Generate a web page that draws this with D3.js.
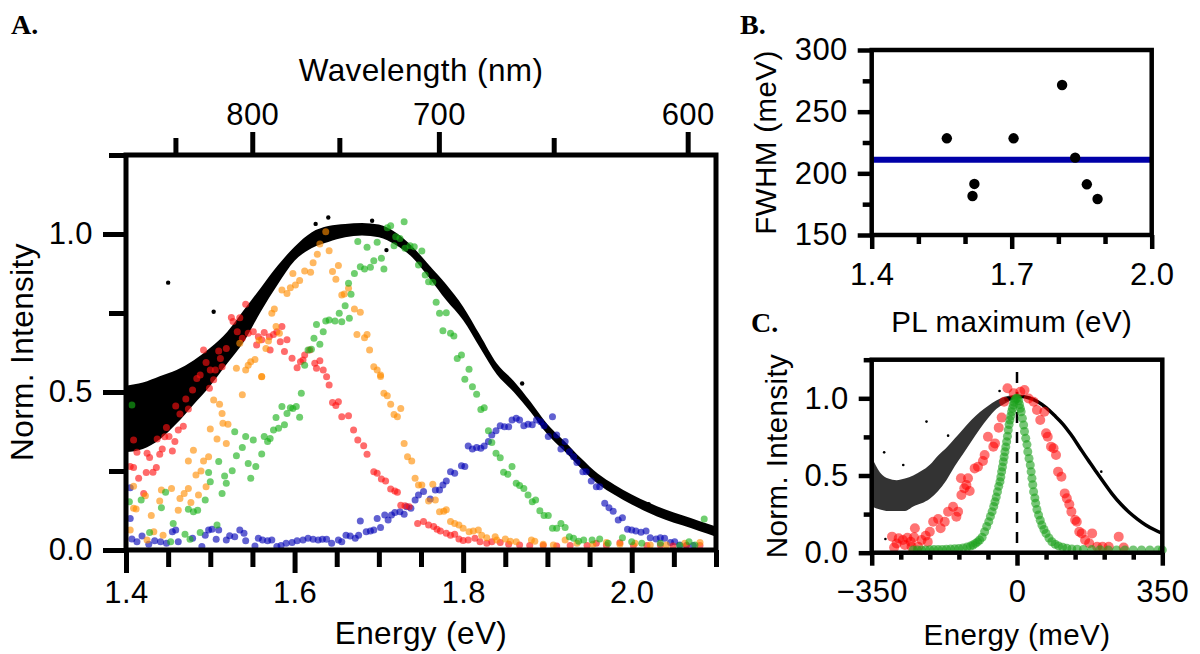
<!DOCTYPE html>
<html>
<head>
<meta charset="utf-8">
<script src="https://cdn.jsdelivr.net/npm/d3@7"></script>
<style>
  body { margin: 0; background: #fff; }
  svg text { font-family: "Liberation Sans", Arial, sans-serif; fill: #000; }
</style>
</head>
<body>
<svg id="fig" width="1200" height="654"></svg>
<script>
// Panel A: PL spectra of single emitters (coloured) over the ensemble (black band)
const aBandE = [1.40, 1.42, 1.44, 1.46, 1.48, 1.50, 1.52, 1.54, 1.56, 1.58, 1.60, 1.62, 1.64, 1.66, 1.68, 1.70, 1.72, 1.74,
  1.76, 1.78, 1.80, 1.82, 1.84, 1.86, 1.88, 1.90, 1.92, 1.94, 1.96, 1.98, 2.00, 2.02, 2.04, 2.06, 2.08, 2.10];
const aBandLow = [0.31, 0.32, 0.35, 0.40, 0.46, 0.52, 0.59, 0.66, 0.755, 0.84, 0.915, 0.955, 0.975, 0.99, 0.995, 0.99, 0.965, 0.925,
  0.86, 0.79, 0.727, 0.64, 0.555, 0.50, 0.437, 0.366, 0.313, 0.258, 0.209, 0.174, 0.144, 0.118, 0.096, 0.078, 0.060, 0.042];
const aBandHigh = [0.52, 0.53, 0.55, 0.57, 0.60, 0.64, 0.69, 0.76, 0.83, 0.90, 0.96, 1.005, 1.025, 1.032, 1.035, 1.03, 1.005, 0.96,
  0.90, 0.84, 0.77, 0.68, 0.59, 0.535, 0.469, 0.398, 0.345, 0.290, 0.241, 0.206, 0.176, 0.150, 0.128, 0.110, 0.092, 0.074];
const aBlackStray = [[1.450, 0.846], [1.504, 0.754], [1.625, 1.032], [1.640, 1.052], [1.692, 1.042], [1.709, 0.949],
  [1.870, 0.527], [2.020, 0.145]];

const aRed = [[1.405, 0.264], [1.409, 0.261], [1.409, 0.348], [1.413, 0.309], [1.415, 0.227], [1.421, 0.179], [1.424, 0.245],
  [1.425, 0.306], [1.428, 0.293], [1.432, 0.246], [1.436, 0.261], [1.437, 0.351], [1.440, 0.303], [1.443, 0.320], [1.446, 0.358],
  [1.448, 0.388], [1.451, 0.359], [1.455, 0.313], [1.458, 0.343], [1.459, 0.456], [1.462, 0.380], [1.464, 0.430], [1.468, 0.392],
  [1.471, 0.478], [1.474, 0.446], [1.479, 0.506], [1.484, 0.543], [1.488, 0.554], [1.492, 0.633], [1.495, 0.593], [1.499, 0.512],
  [1.500, 0.570], [1.504, 0.539], [1.506, 0.570], [1.510, 0.630], [1.512, 0.606], [1.514, 0.580], [1.519, 0.638], [1.525, 0.736],
  [1.527, 0.723], [1.532, 0.691], [1.535, 0.735], [1.538, 0.670], [1.542, 0.778], [1.545, 0.686], [1.551, 0.691], [1.555, 0.649],
  [1.557, 0.675], [1.561, 0.665], [1.564, 0.688], [1.570, 0.675], [1.571, 0.633], [1.575, 0.682], [1.579, 0.691], [1.583, 0.659],
  [1.585, 0.707], [1.588, 0.628], [1.591, 0.665], [1.597, 0.607], [1.603, 0.577], [1.607, 0.596], [1.610, 0.601], [1.612, 0.617],
  [1.618, 0.633], [1.624, 0.591], [1.626, 0.575], [1.630, 0.599], [1.634, 0.570], [1.638, 0.548], [1.641, 0.522], [1.645, 0.467],
  [1.649, 0.457], [1.652, 0.469], [1.656, 0.422], [1.664, 0.425], [1.670, 0.380], [1.675, 0.348], [1.682, 0.330], [1.686, 0.303],
  [1.694, 0.248], [1.698, 0.243], [1.703, 0.225], [1.708, 0.218], [1.714, 0.193], [1.719, 0.187], [1.722, 0.183], [1.726, 0.142],
  [1.731, 0.140], [1.736, 0.137], [1.746, 0.084], [1.753, 0.090], [1.759, 0.079], [1.765, 0.074], [1.769, 0.066], [1.773, 0.060],
  [1.780, 0.053], [1.785, 0.047], [1.790, 0.050], [1.795, 0.035], [1.800, 0.030], [1.806, 0.032], [1.814, 0.037], [1.820, 0.026],
  [1.828, 0.021], [1.834, 0.026], [1.844, 0.024], [1.854, 0.018], [1.867, 0.016], [1.879, 0.014], [1.895, 0.014], [1.911, 0.013],
  [1.927, 0.014], [1.947, 0.014], [1.958, 0.021], [1.970, 0.014], [1.986, 0.023], [2.002, 0.014], [2.018, 0.014], [2.034, 0.016],
  [2.049, 0.013], [2.065, 0.014], [2.081, 0.014]];

const aOrange = [[1.405, 0.063], [1.409, 0.132], [1.409, 0.202], [1.412, 0.130], [1.423, 0.172], [1.425, 0.032], [1.430, 0.109],
  [1.433, 0.058], [1.440, 0.155], [1.442, 0.190], [1.444, 0.047], [1.454, 0.195], [1.462, 0.126], [1.464, 0.163], [1.469, 0.179],
  [1.474, 0.195], [1.474, 0.282], [1.477, 0.150], [1.480, 0.316], [1.483, 0.237], [1.486, 0.174], [1.489, 0.250], [1.492, 0.282],
  [1.495, 0.200], [1.498, 0.295], [1.500, 0.383], [1.504, 0.475], [1.508, 0.351], [1.511, 0.461], [1.514, 0.432], [1.515, 0.401],
  [1.519, 0.337], [1.521, 0.398], [1.531, 0.575], [1.535, 0.654], [1.538, 0.491], [1.542, 0.570], [1.545, 0.585], [1.548, 0.596],
  [1.553, 0.603], [1.558, 0.664], [1.561, 0.549], [1.561, 0.548], [1.566, 0.638], [1.569, 0.661], [1.573, 0.749], [1.576, 0.763],
  [1.578, 0.707], [1.582, 0.686], [1.585, 0.823], [1.591, 0.812], [1.595, 0.830], [1.598, 0.875], [1.601, 0.839], [1.606, 0.853],
  [1.612, 0.883], [1.619, 0.879], [1.622, 0.909], [1.627, 0.936], [1.630, 0.968], [1.637, 1.007], [1.641, 0.947], [1.645, 0.881],
  [1.649, 0.857], [1.652, 0.900], [1.656, 0.807], [1.659, 0.810], [1.664, 0.828], [1.671, 0.763], [1.674, 0.682], [1.678, 0.752],
  [1.683, 0.672], [1.686, 0.682], [1.689, 0.633], [1.694, 0.580], [1.698, 0.570], [1.702, 0.554], [1.702, 0.549], [1.706, 0.496],
  [1.710, 0.488], [1.714, 0.461], [1.718, 0.429], [1.722, 0.422], [1.726, 0.448], [1.730, 0.337], [1.734, 0.295], [1.739, 0.282],
  [1.743, 0.227], [1.747, 0.206], [1.751, 0.206], [1.759, 0.155], [1.764, 0.208], [1.767, 0.158], [1.772, 0.121], [1.777, 0.123],
  [1.780, 0.127], [1.785, 0.090], [1.790, 0.084], [1.795, 0.079], [1.800, 0.069], [1.807, 0.058], [1.812, 0.060], [1.818, 0.063],
  [1.822, 0.047], [1.828, 0.039], [1.838, 0.042], [1.840, 0.032], [1.850, 0.035], [1.856, 0.028], [1.863, 0.026], [1.881, 0.032],
  [1.885, 0.028], [1.895, 0.018], [1.907, 0.016], [1.921, 0.032], [1.935, 0.021], [1.954, 0.018], [1.970, 0.024], [1.986, 0.018],
  [2.004, 0.021], [2.022, 0.016], [2.041, 0.016], [2.063, 0.021], [2.081, 0.024]];

const aGreen = [[1.404, 0.153], [1.407, 0.459], [1.418, 0.158], [1.428, 0.055], [1.442, 0.134], [1.447, 0.183], [1.453, 0.026],
  [1.456, 0.084], [1.470, 0.050], [1.474, 0.129], [1.476, 0.034], [1.480, 0.121], [1.485, 0.126], [1.488, 0.055], [1.494, 0.158],
  [1.498, 0.245], [1.500, 0.216], [1.508, 0.079], [1.510, 0.280], [1.514, 0.179], [1.517, 0.234], [1.519, 0.211], [1.526, 0.251],
  [1.529, 0.374], [1.531, 0.298], [1.538, 0.324], [1.542, 0.359], [1.545, 0.274], [1.548, 0.227], [1.551, 0.348], [1.554, 0.264],
  [1.561, 0.304], [1.564, 0.359], [1.568, 0.343], [1.571, 0.353], [1.575, 0.380], [1.578, 0.419], [1.581, 0.385], [1.585, 0.454],
  [1.588, 0.396], [1.591, 0.432], [1.595, 0.450], [1.598, 0.448], [1.602, 0.454], [1.606, 0.420], [1.608, 0.496], [1.612, 0.585],
  [1.616, 0.633], [1.620, 0.635], [1.623, 0.670], [1.626, 0.714], [1.630, 0.651], [1.634, 0.691], [1.637, 0.725], [1.641, 0.728],
  [1.648, 0.725], [1.653, 0.749], [1.656, 0.722], [1.660, 0.773], [1.664, 0.844], [1.665, 0.733], [1.667, 0.809], [1.671, 0.875],
  [1.675, 0.976], [1.678, 0.896], [1.683, 0.889], [1.686, 0.958], [1.690, 0.895], [1.694, 0.915], [1.698, 0.974], [1.703, 0.923],
  [1.706, 0.889], [1.710, 1.020], [1.714, 1.026], [1.718, 0.963], [1.720, 0.991], [1.725, 0.986], [1.730, 1.039], [1.731, 0.955],
  [1.737, 0.963], [1.742, 0.960], [1.747, 0.902], [1.751, 0.946], [1.755, 0.870], [1.759, 0.849], [1.764, 0.847], [1.768, 0.784],
  [1.772, 0.749], [1.776, 0.694], [1.780, 0.751], [1.785, 0.686], [1.789, 0.677], [1.793, 0.606], [1.798, 0.617], [1.802, 0.540],
  [1.807, 0.572], [1.811, 0.517], [1.816, 0.493], [1.821, 0.445], [1.825, 0.450], [1.830, 0.377], [1.834, 0.340], [1.839, 0.306],
  [1.844, 0.292], [1.848, 0.246], [1.853, 0.240], [1.858, 0.264], [1.863, 0.211], [1.867, 0.204], [1.872, 0.195], [1.877, 0.174],
  [1.882, 0.153], [1.886, 0.158], [1.891, 0.124], [1.896, 0.109], [1.901, 0.109], [1.906, 0.069], [1.911, 0.069], [1.916, 0.084],
  [1.921, 0.071], [1.926, 0.042], [1.931, 0.037], [1.937, 0.028], [1.943, 0.032], [1.953, 0.032], [1.962, 0.035], [1.972, 0.021],
  [1.989, 0.039], [2.000, 0.026], [2.012, 0.021], [2.034, 0.021], [2.057, 0.014], [2.068, 0.026], [2.075, 0.016], [2.086, 0.098]];

const aBlue = [[1.405, 0.197], [1.405, 0.100], [1.407, 0.035], [1.413, 0.026], [1.419, 0.044], [1.427, 0.018], [1.434, 0.029],
  [1.441, 0.026], [1.448, 0.021], [1.455, 0.058], [1.459, 0.063], [1.462, 0.026], [1.479, 0.037], [1.490, 0.011], [1.494, 0.047],
  [1.498, 0.063], [1.502, 0.066], [1.507, 0.034], [1.510, 0.063], [1.519, 0.032], [1.523, 0.045], [1.529, 0.042], [1.535, 0.063],
  [1.540, 0.053], [1.542, 0.029], [1.553, 0.013], [1.557, 0.037], [1.562, 0.032], [1.568, 0.029], [1.573, 0.032], [1.579, 0.011],
  [1.584, 0.014], [1.590, 0.021], [1.597, 0.024], [1.603, 0.029], [1.610, 0.032], [1.616, 0.037], [1.622, 0.034], [1.628, 0.032],
  [1.633, 0.034], [1.638, 0.034], [1.644, 0.021], [1.652, 0.032], [1.656, 0.026], [1.661, 0.047], [1.666, 0.044], [1.672, 0.037],
  [1.676, 0.047], [1.678, 0.092], [1.685, 0.058], [1.690, 0.060], [1.694, 0.063], [1.698, 0.100], [1.702, 0.071], [1.707, 0.111],
  [1.711, 0.095], [1.715, 0.111], [1.719, 0.119], [1.725, 0.121], [1.730, 0.113], [1.733, 0.137], [1.738, 0.132], [1.743, 0.158],
  [1.747, 0.174], [1.753, 0.185], [1.761, 0.161], [1.767, 0.190], [1.772, 0.190], [1.776, 0.206], [1.780, 0.218], [1.785, 0.248],
  [1.790, 0.243], [1.798, 0.267], [1.802, 0.264], [1.806, 0.329], [1.811, 0.320], [1.816, 0.324], [1.821, 0.322], [1.825, 0.329],
  [1.830, 0.343], [1.834, 0.364], [1.839, 0.377], [1.844, 0.393], [1.849, 0.390], [1.854, 0.390], [1.858, 0.411], [1.863, 0.417],
  [1.867, 0.411], [1.872, 0.393], [1.877, 0.398], [1.882, 0.396], [1.887, 0.411], [1.892, 0.406], [1.896, 0.393], [1.901, 0.359],
  [1.906, 0.422], [1.911, 0.364], [1.916, 0.320], [1.921, 0.343], [1.926, 0.311], [1.931, 0.295], [1.935, 0.277], [1.942, 0.248],
  [1.946, 0.248], [1.952, 0.218], [1.958, 0.200], [1.962, 0.200], [1.968, 0.148], [1.973, 0.134], [1.978, 0.123], [1.984, 0.095],
  [1.989, 0.102], [1.995, 0.066], [2.000, 0.063], [2.005, 0.060], [2.011, 0.056], [2.017, 0.060], [2.022, 0.039], [2.029, 0.035],
  [2.034, 0.039], [2.039, 0.037], [2.046, 0.024], [2.051, 0.026], [2.057, 0.016], [2.065, 0.014], [2.073, 0.014]];

const aEnergyTicks = [1.4, 1.6, 1.8, 2.0];
const aEnergyMinor = [1.45, 1.5, 1.55, 1.65, 1.7, 1.75, 1.85, 1.9, 1.95, 2.05, 2.1];
const aIntTicks = [0, 0.5, 1.0];
const aIntMinor = [0.25, 0.75, 1.25];
const aNmTicks = [800, 700, 600];
const aNmMinor = [850, 750, 650];

// Panel B: linewidth vs PL maximum, with the mean as a line
const bPLmax = [1.561, 1.620, 1.616, 1.704, 1.808, 1.836, 1.861, 1.884];
const bFWHM = [228.4, 191.4, 181.6, 228.4, 271.6, 212.7, 191.1, 179.2];
const bMean = 211;
const bXTicks = [1.4, 1.7, 2.0];
const bXMinor = [1.5, 1.6, 1.8, 1.9];
const bYTicks = [150, 200, 250, 300];
const bYMinor = [175, 225, 275];

// Panel C: spectra aligned on their maximum
// left part of the black trace is a noisy cloud, right part a clean line
const cCloudX = [-350, -330, -310, -290, -270, -250, -230, -210, -190, -170, -150, -130, -110, -90, -70, -50, -30, -10];
const cCloudLow = [0.30, 0.28, 0.27, 0.27, 0.27, 0.30, 0.32, 0.35, 0.40, 0.47, 0.56, 0.64, 0.72, 0.80, 0.87, 0.93, 0.965, 0.99];
const cCloudHigh = [0.62, 0.52, 0.48, 0.47, 0.48, 0.50, 0.53, 0.57, 0.63, 0.68, 0.74, 0.80, 0.86, 0.91, 0.95, 0.985, 1.01, 1.02];
const cLineX = [-30, -10, 10, 30, 50, 70, 90, 110, 130, 150, 170, 190, 210, 230, 250, 270, 290, 310, 330, 350];
const cLineY = [0.99, 1.005, 1.012, 1.002, 0.978, 0.94, 0.89, 0.835, 0.765, 0.685, 0.605, 0.528, 0.452, 0.378, 0.315, 0.262,
  0.218, 0.18, 0.15, 0.125];
const cBlackStray = [[-218, 0.849], [-166, 0.758], [-320, 0.650], [-274, 0.568], [-317, 0.089], [-42, 1.047], [203, 0.525]];

const cRed = [[-301, 0.104], [-296, 0.033], [-290, 0.060], [-285, 0.093], [-275, 0.082], [-270, 0.050], [-264, 0.097],
  [-256, 0.071], [-254, 0.039], [-248, 0.100], [-246, 0.158], [-238, 0.039], [-230, 0.082], [-220, 0.110], [-215, 0.070],
  [-210, 0.136], [-202, 0.201], [-190, 0.218], [-184, 0.158], [-174, 0.201], [-166, 0.266], [-154, 0.298], [-146, 0.233],
  [-142, 0.266], [-135, 0.482], [-134, 0.374], [-127, 0.417], [-122, 0.438], [-118, 0.482], [-114, 0.400], [-102, 0.546],
  [-94, 0.557], [-82, 0.594], [-78, 0.633], [-70, 0.751], [-57, 0.687], [-53, 0.708], [-44, 0.810], [-37, 0.875], [-31, 0.978],
  [-23, 1.065], [-8, 1.032], [8, 1.043], [18, 1.054], [28, 0.999], [40, 0.978], [48, 0.924], [56, 0.859], [66, 0.913],
  [70, 0.773], [74, 0.751], [82, 0.687], [88, 0.676], [94, 0.633], [99, 0.525], [107, 0.492], [115, 0.384], [120, 0.352],
  [126, 0.313], [131, 0.266], [140, 0.212], [144, 0.201], [150, 0.136], [156, 0.125], [164, 0.082], [174, 0.061], [181, 0.125],
  [193, 0.039], [206, 0.039], [221, 0.039], [245, 0.104], [257, 0.033]];

const cGreen = [[-250, 0.018], [-240, 0.018], [-230, 0.018], [-220, 0.018], [-210, 0.019], [-200, 0.020], [-190, 0.020],
  [-180, 0.021], [-170, 0.022], [-160, 0.024], [-150, 0.026], [-140, 0.028], [-130, 0.031], [-120, 0.037], [-112, 0.043],
  [-106, 0.050], [-100, 0.060], [-95, 0.070], [-90, 0.082], [-84, 0.100], [-78, 0.136], [-73, 0.170], [-68, 0.201],
  [-64, 0.235], [-60, 0.266], [-56, 0.300], [-53, 0.330], [-50, 0.360], [-47, 0.395], [-44, 0.430], [-41, 0.460], [-39, 0.490],
  [-37, 0.525], [-35, 0.555], [-33, 0.589], [-31, 0.620], [-29, 0.654], [-27, 0.685], [-25, 0.719], [-23, 0.755], [-21, 0.795],
  [-19, 0.830], [-17, 0.859], [-15, 0.885], [-13, 0.913], [-11, 0.935], [-9, 0.957], [-7, 0.975], [-5, 0.990], [-2, 1.000],
  [1, 1.000], [4, 0.985], [6, 0.960], [8, 0.935], [10, 0.913], [13, 0.870], [16, 0.827], [18, 0.785], [21, 0.741], [24, 0.700],
  [26, 0.654], [29, 0.610], [32, 0.568], [34, 0.525], [36, 0.482], [38, 0.440], [40, 0.395], [43, 0.355], [45, 0.320],
  [48, 0.280], [52, 0.244], [56, 0.210], [60, 0.179], [65, 0.150], [70, 0.125], [77, 0.095], [84, 0.071], [92, 0.055],
  [100, 0.044], [110, 0.035], [120, 0.029], [132, 0.024], [145, 0.022], [160, 0.021], [180, 0.020], [200, 0.019], [220, 0.018],
  [240, 0.018], [260, 0.018], [280, 0.018], [300, 0.018], [320, 0.018], [340, 0.018], [350, 0.018]];

const cXTicks = [-350, 0, 350];
const cXMinor = [-280, -210, -140, -70, 70, 140, 210, 280];
const cYTicks = [0, 0.5, 1.0];
const cYMinor = [0.25, 0.75, 1.25];

const HC = 1239.84; // eV*nm

const svg = d3.select('#fig');
svg.append('rect').attr('width', 1200).attr('height', 654).attr('fill', '#fff');

// one tick set (major or minor) on an axis, with the domain line removed
function ticks(parent, axisFn, scale, tr, values, len, pad, fmt, width) {
  const g = parent.append('g').attr('transform', tr)
    .call(axisFn(scale).tickValues(values).tickSize(len).tickPadding(pad)
      .tickFormat(fmt || (() => '')));
  g.select('.domain').remove();
  g.selectAll('.tick line').attr('stroke', '#000').attr('stroke-width', width);
  g.selectAll('.tick text').attr('font-size', 31).style('letter-spacing', '0.4px');
  return g;
}

function frame(parent, x, y, width) {
  const [x0, x1] = x.range();
  const [y0, y1] = y.range();
  parent.append('rect')
    .attr('x', x0).attr('y', y1).attr('width', x1 - x0).attr('height', y0 - y1)
    .attr('fill', 'none').attr('stroke', '#000').attr('stroke-width', width);
}

function label(parent, txt, x, y, size, rotate) {
  parent.append('text')
    .attr('transform', `translate(${x},${y})` + (rotate ? ' rotate(-90)' : ''))
    .attr('text-anchor', 'middle').attr('font-size', size)
    .style('letter-spacing', '0.4px').text(txt);
}

function panelTag(txt, x, y) {
  svg.append('text').attr('x', x).attr('y', y)
    .style('font-family', '"Liberation Serif", "DejaVu Serif", serif')
    .attr('font-weight', 'bold').attr('font-size', 28).text(txt);
}

const f1 = d3.format('.1f');

// ---- A ----
const xA = d3.scaleLinear().domain([1.4, 2.1]).range([126, 716]);
const yA = d3.scaleLinear().domain([0, 1.25]).range([550, 155]);
const gA = svg.append('g');

const bandA = aBandE.map((e, i) => ({ e, lo: aBandLow[i], hi: aBandHigh[i] }));
gA.append('path').datum(bandA)
  .attr('d', d3.area().curve(d3.curveMonotoneX).x(d => xA(d.e)).y0(d => yA(d.lo)).y1(d => yA(d.hi)))
  .attr('fill', '#000');
gA.append('g').selectAll('circle').data(aBlackStray).join('circle')
  .attr('cx', d => xA(d[0])).attr('cy', d => yA(d[1])).attr('r', 2.2).attr('fill', '#000');

const aSeries = [
  { pts: aBlue, color: '#0000b4' },
  { pts: aRed, color: '#ff1010' },
  { pts: aOrange, color: '#ff8c00' },
  { pts: aGreen, color: '#16b016' },
];
aSeries.forEach(s => {
  gA.append('g').selectAll('circle').data(s.pts).join('circle')
    .attr('cx', d => xA(d[0])).attr('cy', d => yA(d[1])).attr('r', 3.5)
    .attr('fill', s.color).attr('fill-opacity', 0.62);
});

ticks(gA, d3.axisBottom, xA, 'translate(0,550)', aEnergyMinor, 17, 8, null, 5);
ticks(gA, d3.axisBottom, xA, 'translate(0,550)', aEnergyTicks, 23, 8, f1, 5);
ticks(gA, d3.axisLeft, yA, 'translate(126,0)', aIntMinor, 17, 10, null, 5);
ticks(gA, d3.axisLeft, yA, 'translate(126,0)', aIntTicks, 23, 10, f1, 5);
ticks(gA, d3.axisTop, xA, 'translate(0,155)', aNmMinor.map(n => HC / n), 17, 7, null, 5);
ticks(gA, d3.axisTop, xA, 'translate(0,155)', aNmTicks.map(n => HC / n), 23, 7, e => Math.round(HC / e), 5);
frame(gA, xA, yA, 5);

label(gA, 'Wavelength (nm)', 421, 81, 31.5);
label(gA, 'Energy (eV)', 421, 644, 31.5);
label(gA, 'Norm. Intensity', 33, 352, 31.5, true);
panelTag('A.', 11, 34);

// ---- B ----
const xB = d3.scaleLinear().domain([1.4, 2.0]).range([871.7, 1151.7]);
const yB = d3.scaleLinear().domain([150, 300]).range([235, 50]);
const gB = svg.append('g');

gB.append('line')
  .attr('x1', xB(1.4)).attr('x2', xB(2.0)).attr('y1', yB(bMean)).attr('y2', yB(bMean))
  .attr('stroke', '#0000a8').attr('stroke-width', 6);
gB.append('g').selectAll('circle').data(bPLmax).join('circle')
  .attr('cx', d => xB(d)).attr('cy', (d, i) => yB(bFWHM[i])).attr('r', 5.2).attr('fill', '#000');

ticks(gB, d3.axisBottom, xB, 'translate(0,235)', bXMinor, 9, 14, null, 4.5);
ticks(gB, d3.axisBottom, xB, 'translate(0,235)', bXTicks, 14, 14, f1, 4.5);
ticks(gB, d3.axisLeft, yB, 'translate(871.7,0)', bYMinor, 9, 10, null, 4.5);
ticks(gB, d3.axisLeft, yB, 'translate(871.7,0)', bYTicks, 14, 10, d3.format('d'), 4.5);
frame(gB, xB, yB, 4.5);

label(gB, 'PL maximum (eV)', 1011.7, 331.5, 29.5);
label(gB, 'FWHM (meV)', 776, 142.5, 29.5, true);
panelTag('B.', 740, 34);

// ---- C ----
const xC = d3.scaleLinear().domain([-350, 350]).range([871.7, 1162.3]);
const yC = d3.scaleLinear().domain([0, 1.25]).range([552.7, 359.7]);
const gC = svg.append('g');

const cloud = cCloudX.map((x, i) => ({ x, lo: cCloudLow[i], hi: cCloudHigh[i] }));
gC.append('path').datum(cloud)
  .attr('d', d3.area().curve(d3.curveMonotoneX).x(d => xC(d.x)).y0(d => yC(d.lo)).y1(d => yC(d.hi)))
  .attr('fill', '#000').attr('fill-opacity', 0.8);
gC.append('path').datum(cLineX.map((x, i) => [x, cLineY[i]]))
  .attr('d', d3.line().curve(d3.curveMonotoneX).x(d => xC(d[0])).y(d => yC(d[1])))
  .attr('fill', 'none').attr('stroke', '#000').attr('stroke-width', 3.5);
gC.append('g').selectAll('circle').data(cBlackStray).join('circle')
  .attr('cx', d => xC(d[0])).attr('cy', d => yC(d[1])).attr('r', 1.3).attr('fill', '#000');

gC.append('line')
  .attr('x1', xC(0)).attr('x2', xC(0)).attr('y1', yC(1.17)).attr('y2', yC(0))
  .attr('stroke', '#000').attr('stroke-width', 2.5).attr('stroke-dasharray', '11,9');

gC.append('g').selectAll('circle').data(cRed).join('circle')
  .attr('cx', d => xC(d[0])).attr('cy', d => yC(d[1])).attr('r', 5)
  .attr('fill', '#ff0000').attr('fill-opacity', 0.55);
gC.append('g').selectAll('circle').data(cGreen).join('circle')
  .attr('cx', d => xC(d[0])).attr('cy', d => yC(d[1])).attr('r', 4.5)
  .attr('fill', '#1aa01a').attr('fill-opacity', 0.6);

ticks(gC, d3.axisBottom, xC, 'translate(0,552.7)', cXMinor, 7, 14, null, 4.5);
ticks(gC, d3.axisBottom, xC, 'translate(0,552.7)', cXTicks, 13, 14, d3.format('d'), 4.5);
ticks(gC, d3.axisLeft, yC, 'translate(871.7,0)', cYMinor, 8, 10, null, 4.5);
ticks(gC, d3.axisLeft, yC, 'translate(871.7,0)', cYTicks, 13, 10, f1, 4.5);
frame(gC, xC, yC, 4.5);

label(gC, 'Energy (meV)', 1017, 645, 29.5);
label(gC, 'Norm. Intensity', 787, 456, 29.5, true);
panelTag('C.', 751, 332);
</script>
</body>
</html>
